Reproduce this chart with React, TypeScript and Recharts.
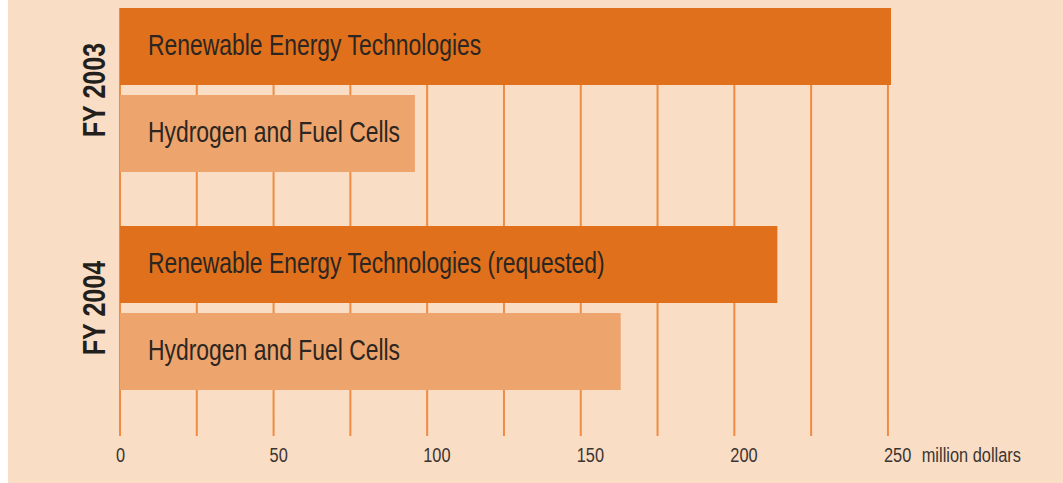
import React from 'react';
import { BarChart, Bar, XAxis, YAxis, CartesianGrid, LabelList } from 'recharts';

const years = ['FY 2003', 'FY 2004'];
const renewable = [251, 214];
const hydrogen = [96, 163];
const renewableLabels = ['Renewable Energy Technologies', 'Renewable Energy Technologies (requested)'];
const hydrogenLabels = ['Hydrogen and Fuel Cells', 'Hydrogen and Fuel Cells'];
const xTicks = [0, 25, 50, 75, 100, 125, 150, 175, 200, 225, 250];
const unitLabel = 'million dollars';

const data = years.map((year, i) => ({
  year,
  renewable: renewable[i],
  hydrogen: hydrogen[i],
  renewableLabel: renewableLabels[i],
  hydrogenLabel: hydrogenLabels[i],
}));

// no condensed Helvetica here, so squeeze Liberation Sans horizontally
const font = '"Liberation Sans", Arial, sans-serif';
const peach = '#FADDC5';
const dark = '#E0701C';
const light = '#EDA46D';
const gridColor = '#EE8C42';
const textColor = '#2b2622';

const BarText = (labels: string[]) => (props: any) => {
  const { x, y, height, index } = props;
  return (
    <text
      transform={`translate(${x + 28} ${y + height / 2 + 8}) scale(0.79 1)`}
      fontSize={29}
      fill={textColor}
      fontFamily={font}
    >
      {labels[index]}
    </text>
  );
};

const YearTick = (props: any) => {
  const { x, y, payload } = props;
  return (
    <text
      transform={`translate(${x} ${y}) rotate(-90) scale(0.785 1)`}
      textAnchor="middle"
      fontSize={32}
      fontWeight="bold"
      fill="#231f1c"
      fontFamily={font}
    >
      {payload.value}
    </text>
  );
};

const ValueTick = (props: any) => {
  const { x, y, payload } = props;
  const v = payload.value;
  if (v % 50 !== 0) return null;
  return (
    <g transform={`translate(${x - 4} ${y}) scale(0.84 1)`}>
      <text x={0} y={0} dy="0.71em" fontSize={19.5} fill="#3a3530" fontFamily={font}>
        {v}
      </text>
      {v === 250 && (
        <text x={45} y={0} dy="0.71em" fontSize={19.5} fill="#3a3530" fontFamily={font}>
          {unitLabel}
        </text>
      )}
    </g>
  );
};

// draw grid lines for the ticks only, skip the extra one at the plot edge
const GridLine = (p: any) => {
  if (p.index >= xTicks.length) return <g key={p.key ?? `skip-${p.index}`} />;
  return (
    <line
      key={p.key ?? `v-${p.index}`}
      x1={p.x1}
      y1={p.y1}
      x2={p.x2}
      y2={p.y2}
      stroke={gridColor}
      strokeWidth={2}
    />
  );
};

export default function App() {
  return (
    <div style={{ position: 'absolute', top: 0, left: 8, width: 1055, height: 483, background: peach, overflow: 'hidden' }}>
      <div style={{ position: 'absolute', top: 8, left: 0, width: 1055, height: 475, overflow: 'hidden' }}>
        <div style={{ position: 'absolute', top: -27, left: 0 }}>
          <BarChart
            width={1055}
            height={486}
            data={data}
            layout="vertical"
            barSize={77}
            barGap={10}
            margin={{ top: 0, right: 172, bottom: 0, left: 0 }}
          >
            <CartesianGrid horizontal={false} vertical={GridLine} stroke={gridColor} strokeWidth={2} />
            <XAxis
              type="number"
              domain={[0, 251]}
              ticks={xTicks}
              interval={0}
              axisLine={false}
              tickLine={{ stroke: gridColor, strokeWidth: 2 }}
              tickSize={19}
              tickMargin={12}
              height={50}
              tick={<ValueTick />}
            />
            <YAxis
              type="category"
              dataKey="year"
              width={112}
              axisLine={false}
              tickLine={false}
              tickSize={0}
              tickMargin={15}
              tick={<YearTick />}
            />
            <Bar dataKey="renewable" fill={dark} isAnimationActive={false}>
              <LabelList dataKey="renewableLabel" content={BarText(renewableLabels)} />
            </Bar>
            <Bar dataKey="hydrogen" fill={light} isAnimationActive={false}>
              <LabelList dataKey="hydrogenLabel" content={BarText(hydrogenLabels)} />
            </Bar>
          </BarChart>
        </div>
      </div>
    </div>
  );
}
